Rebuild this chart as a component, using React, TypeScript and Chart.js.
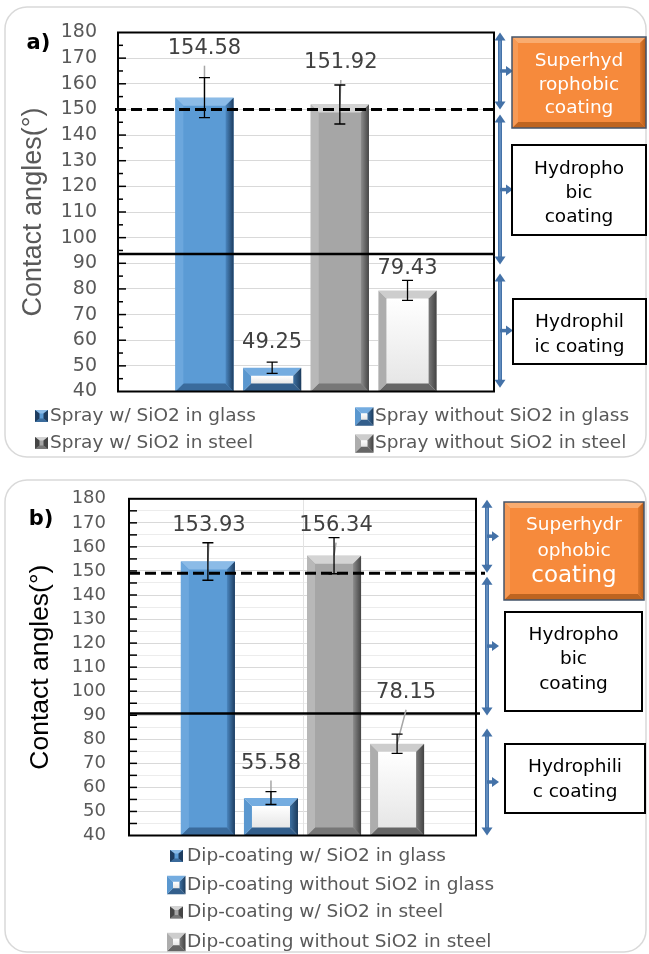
import React, { useEffect, useRef } from 'react';
import { Chart, registerables } from 'chart.js';

Chart.register(...registerables);

// ---------------- data ----------------
const sprayCategories = [
  'Spray w/ SiO2 in glass',
  'Spray without SiO2 in glass',
  'Spray w/ SiO2 in steel',
  'Spray without SiO2 in steel',
];
const sprayAngles = [154.58, 49.25, 151.92, 79.43];
const sprayErrors = [7.8, 2.2, 7.6, 3.9];

const dipCategories = [
  'Dip-coating w/ SiO2 in glass',
  'Dip-coating without SiO2 in glass',
  'Dip-coating w/ SiO2 in steel',
  'Dip-coating without SiO2 in steel',
];
const dipAngles = [153.93, 55.58, 156.34, 78.15];
const dipErrors = [7.8, 2.7, 7.5, 4.0];

const angleMin = 40;
const angleMax = 180;
const angleStep = 5;
const labelStep = 10;
const axisTitle = 'Contact angles(°)';

const sprayLimits = { superhydrophobic: 150, hydrophilic: 93.6 };
const dipLimits = { superhydrophobic: 149, hydrophilic: 90.7 };

const sprayZoneText = [['Superhyd', 'rophobic', 'coating'], ['Hydropho', 'bic', 'coating'], ['Hydrophil', 'ic coating']];
const dipZoneText = [['Superhydr', 'ophobic', 'coating'], ['Hydropho', 'bic', 'coating'], ['Hydrophili', 'c coating']];
const sprayZoneRanges = [[180, 150], [148, 89.5], [86, 41.5]];
const dipZoneRanges = [[179.6, 149.3], [147.6, 89.9], [84.5, 40]];

// ---------------- styles ----------------
const FONT = "'DejaVu Sans', 'Liberation Sans', sans-serif";
const TITLE_FONT = "'Liberation Sans', Arial, sans-serif";

type Bev = { face: string; top: string; left: string; right: [string, string]; bottom: string; hollow?: boolean };

const BAR_STYLES: Bev[] = [
  { face: '#5B9BD5', top: '#8BBBE7', left: '#6CA7DD', right: ['#4A86BF', '#1E3D60'], bottom: '#3A6B9C' },
  { face: '#FFFFFF', top: '#74ACE0', left: '#5A97CF', right: ['#3C6FA0', '#1C3B5C'], bottom: '#335F8C', hollow: true },
  { face: '#A6A6A6', top: '#D4D4D4', left: '#B8B8B8', right: ['#8C8C8C', '#454545'], bottom: '#777777' },
  { face: '#FFFFFF', top: '#CDCDCD', left: '#ADADAD', right: ['#7A7A7A', '#424242'], bottom: '#666666', hollow: true },
];
const ORANGE: Bev = { face: '#F68A3C', top: '#F9AC70', left: '#F79A55', right: ['#E07A2E', '#B45A16'], bottom: '#BE6420' };

type BoxCfg = { x: number; y: number; w: number; h: number; orange: boolean; lineH: number; fonts: number[]; dy: number };
type LegCfg = { mx: number; cy: number; tx: number };

type PanelCfg = {
  key: string;
  letter: string;
  letterPos: [number, number];
  top: number;
  height: number;
  categories: string[];
  values: number[];
  errors: number[];
  limits: { superhydrophobic: number; hydrophilic: number };
  zoneText: string[][];
  zoneRanges: number[][];
  padding: { left: number; top: number; right: number; bottom: number };
  axisWidth: number;
  tickFont: number;
  tickPad: number;
  titleFont: number;
  titlePadTop: number;
  titleColor: string;
  catPct: number;
  barPct: number;
  frame: [number, number, number, number];
  minorGrid: string;
  minorTickLen: number;
  labelOffsets: number[][];
  dashExtend: [number, number];
  solidExtend: [number, number];
  arrowDx: number;
  stubLen: number;
  boxes: BoxCfg[];
  legend: LegCfg[];
  verticalGrid: boolean;
};

const sprayPanel: PanelCfg = {
  key: 'a',
  letter: 'a)',
  letterPos: [38.5, 44],
  top: 0,
  height: 465,
  categories: sprayCategories,
  values: sprayAngles,
  errors: sprayErrors,
  limits: sprayLimits,
  zoneText: sprayZoneText,
  zoneRanges: sprayZoneRanges,
  padding: { left: 10, top: 32.5, right: 155, bottom: 73.5 },
  axisWidth: 108,
  tickFont: 19,
  tickPad: 21,
  titleFont: 27,
  titlePadTop: 7.5,
  titleColor: '#595959',
  catPct: 0.72,
  barPct: 0.86,
  frame: [5, 7, 641, 450],
  minorGrid: 'rgba(0,0,0,0)',
  minorTickLen: 5,
  labelOffsets: [[0, -49], [0, -25], [1, -41.5], [0, -21.5]],
  dashExtend: [-3, 3],
  solidExtend: [0, 0],
  arrowDx: 6,
  stubLen: 13,
  boxes: [
    { x: 512, y: 37, w: 134, h: 91, orange: true, lineH: 23.5, fonts: [18.5, 18.5, 18.5], dy: 2.5 },
    { x: 512, y: 145, w: 134, h: 90, orange: false, lineH: 24, fonts: [18.5, 18.5, 18.5], dy: 3.5 },
    { x: 513, y: 299, w: 133, h: 65, orange: false, lineH: 25, fonts: [18.5, 18.5], dy: 3.5 },
  ],
  legend: [
    { mx: 35, cy: 416, tx: 50 },
    { mx: 355, cy: 416.5, tx: 375 },
    { mx: 35, cy: 443, tx: 50 },
    { mx: 355, cy: 443.5, tx: 375 },
  ],
  verticalGrid: false,
};

const dipPanel: PanelCfg = {
  key: 'b',
  letter: 'b)',
  letterPos: [41, 55],
  top: 465,
  height: 489,
  categories: dipCategories,
  values: dipAngles,
  errors: dipErrors,
  limits: dipLimits,
  zoneText: dipZoneText,
  zoneRanges: dipZoneRanges,
  padding: { left: 10, top: 33, right: 173, bottom: 118.5 },
  axisWidth: 119,
  tickFont: 18,
  tickPad: 23,
  titleFont: 26.5,
  titlePadTop: 14.7,
  titleColor: '#000000',
  catPct: 0.727,
  barPct: 0.857,
  frame: [5, 15, 641, 472],
  minorGrid: '#ECECEC',
  minorTickLen: 8,
  labelOffsets: [[1, -36], [0, -34.5], [2, -30], [9, -51]],
  dashExtend: [0, 9],
  solidExtend: [0, 4],
  arrowDx: 11,
  stubLen: 12,
  boxes: [
    { x: 504, y: 37, w: 140, h: 98, orange: true, lineH: 25.5, fonts: [18.5, 18.5, 23], dy: 0 },
    { x: 505, y: 147, w: 137, h: 99, orange: false, lineH: 24.5, fonts: [18.5, 18.5, 18.5], dy: -2 },
    { x: 505, y: 279, w: 140, h: 69, orange: false, lineH: 25.5, fonts: [18.5, 18.5], dy: 1 },
  ],
  legend: [
    { mx: 170, cy: 391, tx: 187 },
    { mx: 167, cy: 420, tx: 187 },
    { mx: 170, cy: 447.5, tx: 187 },
    { mx: 167, cy: 477, tx: 187 },
  ],
  verticalGrid: true,
};

// ---------------- drawing helpers ----------------
function poly(ctx: CanvasRenderingContext2D, pts: number[], fill: string | CanvasGradient) {
  ctx.beginPath();
  ctx.moveTo(pts[0], pts[1]);
  for (let i = 2; i < pts.length; i += 2) ctx.lineTo(pts[i], pts[i + 1]);
  ctx.closePath();
  ctx.fillStyle = fill;
  ctx.fill();
}

function bevelBox(ctx: CanvasRenderingContext2D, L: number, T: number, R: number, B: number, bx: number, by: number, st: Bev, fillFace: boolean) {
  const h = B - T;
  const byy = Math.min(by, h / 2.2);
  if (st.hollow) {
    const g = ctx.createLinearGradient(0, T + byy, 0, B - byy);
    g.addColorStop(0, '#FFFFFF');
    g.addColorStop(1, '#E6E6E6');
    ctx.fillStyle = g;
    ctx.fillRect(L, T, R - L, B - T);
  } else if (fillFace) {
    ctx.fillStyle = st.face;
    ctx.fillRect(L, T, R - L, B - T);
  }
  poly(ctx, [L, T, R, T, R - bx, T + byy, L + bx, T + byy], st.top);
  poly(ctx, [L, B, R, B, R - bx, B - byy, L + bx, B - byy], st.bottom);
  poly(ctx, [L, T, L + bx, T + byy, L + bx, B - byy, L, B], st.left);
  const gr = ctx.createLinearGradient(R - bx, 0, R, 0);
  gr.addColorStop(0, st.right[0]);
  gr.addColorStop(1, st.right[1]);
  poly(ctx, [R, T, R - bx, T + byy, R - bx, B - byy, R, B], gr);
}

function roundRectPath(ctx: CanvasRenderingContext2D, x: number, y: number, w: number, h: number, r: number) {
  ctx.beginPath();
  ctx.moveTo(x + r, y);
  ctx.arcTo(x + w, y, x + w, y + h, r);
  ctx.arcTo(x + w, y + h, x, y + h, r);
  ctx.arcTo(x, y + h, x, y, r);
  ctx.arcTo(x, y, x + w, y, r);
  ctx.closePath();
}

function tri(ctx: CanvasRenderingContext2D, a: number[]) {
  ctx.beginPath();
  ctx.moveTo(a[0], a[1]);
  ctx.lineTo(a[2], a[3]);
  ctx.lineTo(a[4], a[5]);
  ctx.closePath();
  ctx.fill();
}

function zoneArrow(ctx: CanvasRenderingContext2D, x: number, y1: number, y2: number, stub: number) {
  const col = '#4472A8';
  const hh = 8;
  const hw = 5.5;
  ctx.strokeStyle = col;
  ctx.fillStyle = col;
  ctx.lineWidth = 4;
  ctx.beginPath();
  ctx.moveTo(x, y1 + hh - 1);
  ctx.lineTo(x, y2 - hh + 1);
  ctx.stroke();
  ctx.strokeStyle = '#7FA6D4';
  ctx.lineWidth = 1;
  ctx.beginPath();
  ctx.moveTo(x, y1 + hh);
  ctx.lineTo(x, y2 - hh);
  ctx.stroke();
  tri(ctx, [x, y1, x - hw, y1 + hh, x + hw, y1 + hh]);
  tri(ctx, [x, y2, x - hw, y2 - hh, x + hw, y2 - hh]);
  const ym = (y1 + y2) / 2;
  ctx.strokeStyle = col;
  ctx.lineWidth = 3.5;
  ctx.beginPath();
  ctx.moveTo(x, ym);
  ctx.lineTo(x + stub - 6, ym);
  ctx.stroke();
  tri(ctx, [x + stub, ym, x + stub - 7, ym - 5, x + stub - 7, ym + 5]);
}

function makeDecor(p: PanelCfg) {
  return {
    id: 'decor_' + p.key,
    beforeDraw(chart: any) {
      const ctx: CanvasRenderingContext2D = chart.ctx;
      ctx.save();
      ctx.fillStyle = '#FFFFFF';
      ctx.fillRect(0, 0, chart.width, chart.height);
      const [fx, fy, fw, fh] = p.frame;
      roundRectPath(ctx, fx, fy, fw, fh, 22);
      ctx.strokeStyle = '#D9D9D9';
      ctx.lineWidth = 1.5;
      ctx.stroke();
      ctx.restore();
    },
    beforeDatasetsDraw(chart: any) {
      if (!p.verticalGrid) return;
      const ctx: CanvasRenderingContext2D = chart.ctx;
      const ca = chart.chartArea;
      ctx.save();
      ctx.strokeStyle = '#E3E3E3';
      ctx.lineWidth = 1;
      const xm = Math.round((ca.left + ca.right) / 2) + 0.5;
      ctx.beginPath();
      ctx.moveTo(xm, ca.top);
      ctx.lineTo(xm, ca.bottom);
      ctx.stroke();
      ctx.restore();
    },
    afterDatasetsDraw(chart: any) {
      const ctx: CanvasRenderingContext2D = chart.ctx;
      const ys = chart.scales.y;
      const ca = chart.chartArea;
      ctx.save();
      const geo = chart.data.datasets.map((_: any, i: number) => {
        const el = chart.getDatasetMeta(i).data[0];
        const g = el.getProps(['x', 'y', 'base', 'width'], true);
        return { x: g.x, y: g.y, width: g.width, base: Math.min(g.base, ca.bottom) };
      });
      // bevelled bars
      geo.forEach((g: any, i: number) => {
        bevelBox(ctx, g.x - g.width / 2, g.y, g.x + g.width / 2, g.base, 8, 8, BAR_STYLES[i], false);
      });
      // threshold lines
      ctx.strokeStyle = '#000';
      const yd = ys.getPixelForValue(p.limits.superhydrophobic);
      ctx.setLineDash([11, 5]);
      ctx.lineWidth = 3;
      ctx.beginPath();
      ctx.moveTo(ca.left + p.dashExtend[0], yd);
      ctx.lineTo(ca.right + p.dashExtend[1], yd);
      ctx.stroke();
      ctx.setLineDash([]);
      const yl = ys.getPixelForValue(p.limits.hydrophilic);
      ctx.lineWidth = 2.5;
      ctx.beginPath();
      ctx.moveTo(ca.left + p.solidExtend[0], yl);
      ctx.lineTo(ca.right + p.solidExtend[1], yl);
      ctx.stroke();
      // plot frame
      ctx.lineWidth = 2;
      ctx.strokeRect(ca.left, ca.top, ca.right - ca.left, ca.bottom - ca.top);
      // inward tick marks
      ctx.lineWidth = 1.5;
      for (let v = angleMin + angleStep; v < angleMax; v += angleStep) {
        const yy = ys.getPixelForValue(v);
        const len = v % labelStep === 0 ? 8 : p.minorTickLen;
        ctx.beginPath();
        ctx.moveTo(ca.left, yy);
        ctx.lineTo(ca.left + len, yy);
        ctx.stroke();
      }
      // leader lines, error bars, value labels
      geo.forEach((g: any, i: number) => {
        const [dx, dy] = p.labelOffsets[i];
        const lx = g.x + dx;
        const ly = g.y + dy;
        if (g.y - (ly + 17) > 8) {
          ctx.strokeStyle = '#A6A6A6';
          ctx.lineWidth = 1.5;
          ctx.beginPath();
          ctx.moveTo(lx, ly + 17);
          ctx.lineTo(g.x, g.y);
          ctx.stroke();
        }
        const v = p.values[i];
        const e = p.errors[i];
        const yt = ys.getPixelForValue(v + e);
        const yb = ys.getPixelForValue(v - e);
        ctx.strokeStyle = '#000';
        ctx.lineWidth = 1.3;
        ctx.beginPath();
        ctx.moveTo(g.x, yt);
        ctx.lineTo(g.x, yb);
        ctx.moveTo(g.x - 5.5, yt);
        ctx.lineTo(g.x + 5.5, yt);
        ctx.moveTo(g.x - 5.5, yb);
        ctx.lineTo(g.x + 5.5, yb);
        ctx.stroke();
        ctx.font = `21px ${FONT}`;
        ctx.fillStyle = '#404040';
        ctx.textAlign = 'center';
        ctx.textBaseline = 'middle';
        ctx.fillText(v.toFixed(2), lx, ly);
      });
      ctx.restore();
    },
    afterDraw(chart: any) {
      const ctx: CanvasRenderingContext2D = chart.ctx;
      const ys = chart.scales.y;
      const ca = chart.chartArea;
      ctx.save();
      // zone arrows
      p.zoneRanges.forEach((r) => {
        zoneArrow(ctx, ca.right + p.arrowDx, ys.getPixelForValue(r[0]), ys.getPixelForValue(r[1]), p.stubLen);
      });
      // zone boxes
      p.boxes.forEach((b, bi) => {
        if (b.orange) {
          bevelBox(ctx, b.x, b.y, b.x + b.w, b.y + b.h, 6, 6, ORANGE, true);
          ctx.strokeStyle = '#44546A';
          ctx.lineWidth = 1.5;
          ctx.strokeRect(b.x, b.y, b.w, b.h);
        } else {
          ctx.fillStyle = '#FFFFFF';
          ctx.fillRect(b.x, b.y, b.w, b.h);
          ctx.strokeStyle = '#000';
          ctx.lineWidth = 2;
          ctx.strokeRect(b.x, b.y, b.w, b.h);
        }
        const lines = p.zoneText[bi];
        const cy = b.y + b.h / 2 + b.dy;
        ctx.textAlign = 'center';
        ctx.textBaseline = 'middle';
        ctx.fillStyle = b.orange ? '#FFFFFF' : '#000000';
        lines.forEach((t, li) => {
          ctx.font = `${b.fonts[li]}px ${FONT}`;
          ctx.fillText(t, b.x + b.w / 2, cy + (li - (lines.length - 1) / 2) * b.lineH);
        });
      });
      // legend
      chart.data.datasets.forEach((ds: any, i: number) => {
        const lg = p.legend[i];
        const st = BAR_STYLES[i];
        if (st.hollow) {
          const s = 18.5;
          bevelBox(ctx, lg.mx, lg.cy - s / 2, lg.mx + s, lg.cy + s / 2, 6, 6, st, true);
        } else {
          const w = 13;
          const h = 12;
          const mst: Bev = { ...st, left: st.right[1], right: [st.right[1], st.right[1]] };
          bevelBox(ctx, lg.mx, lg.cy - h / 2, lg.mx + w, lg.cy + h / 2, 4.5, 3.5, mst, true);
        }
        ctx.font = `18.5px ${FONT}`;
        ctx.fillStyle = '#595959';
        ctx.textAlign = 'left';
        ctx.textBaseline = 'middle';
        ctx.fillText(ds.label, lg.tx, lg.cy);
      });
      // panel letter
      ctx.font = `bold 21px ${FONT}`;
      ctx.fillStyle = '#000';
      ctx.textAlign = 'center';
      ctx.textBaseline = 'middle';
      ctx.fillText(p.letter, p.letterPos[0], p.letterPos[1]);
      ctx.restore();
    },
  };
}

function buildConfig(p: PanelCfg): any {
  return {
    type: 'bar',
    data: {
      labels: [''],
      datasets: p.categories.map((lab, i) => ({
        label: lab,
        data: [p.values[i]],
        backgroundColor: BAR_STYLES[i].face,
        borderWidth: 0,
        categoryPercentage: p.catPct,
        barPercentage: p.barPct,
      })),
    },
    options: {
      animation: false,
      responsive: false,
      maintainAspectRatio: false,
      layout: { padding: p.padding },
      plugins: { legend: { display: false }, tooltip: { enabled: false } },
      scales: {
        x: { display: false },
        y: {
          min: angleMin,
          max: angleMax,
          beginAtZero: false,
          afterFit: (s: any) => {
            s.width = p.axisWidth;
          },
          ticks: {
            stepSize: angleStep,
            autoSkip: false,
            padding: p.tickPad,
            color: '#595959',
            font: { family: FONT, size: p.tickFont },
            callback: (v: any) => (Number(v) % labelStep === 0 ? String(v) : ''),
          },
          grid: {
            drawTicks: false,
            lineWidth: 1,
            color: (c: any) => (c.tick && c.tick.value % labelStep === 0 ? '#D9D9D9' : p.minorGrid),
          },
          border: { display: false },
          title: {
            display: true,
            text: axisTitle,
            color: p.titleColor,
            font: { family: TITLE_FONT, size: p.titleFont },
            padding: { top: p.titlePadTop, bottom: 0 },
          },
        },
      },
    },
    plugins: [makeDecor(p)],
  };
}

function ChartPanel({ cfg }: { cfg: PanelCfg }) {
  const ref = useRef<HTMLCanvasElement>(null);
  useEffect(() => {
    if (!ref.current) return;
    const chart = new Chart(ref.current, buildConfig(cfg));
    return () => chart.destroy();
  }, [cfg]);
  return (
    <canvas
      ref={ref}
      width={649}
      height={cfg.height}
      style={{ position: 'absolute', left: 0, top: cfg.top, width: 649, height: cfg.height, display: 'block' }}
    />
  );
}

export default function App() {
  return (
    <div style={{ position: 'absolute', left: 0, top: 0, width: 649, height: 954, background: '#FFFFFF', overflow: 'hidden' }}>
      <ChartPanel cfg={sprayPanel} />
      <ChartPanel cfg={dipPanel} />
    </div>
  );
}
